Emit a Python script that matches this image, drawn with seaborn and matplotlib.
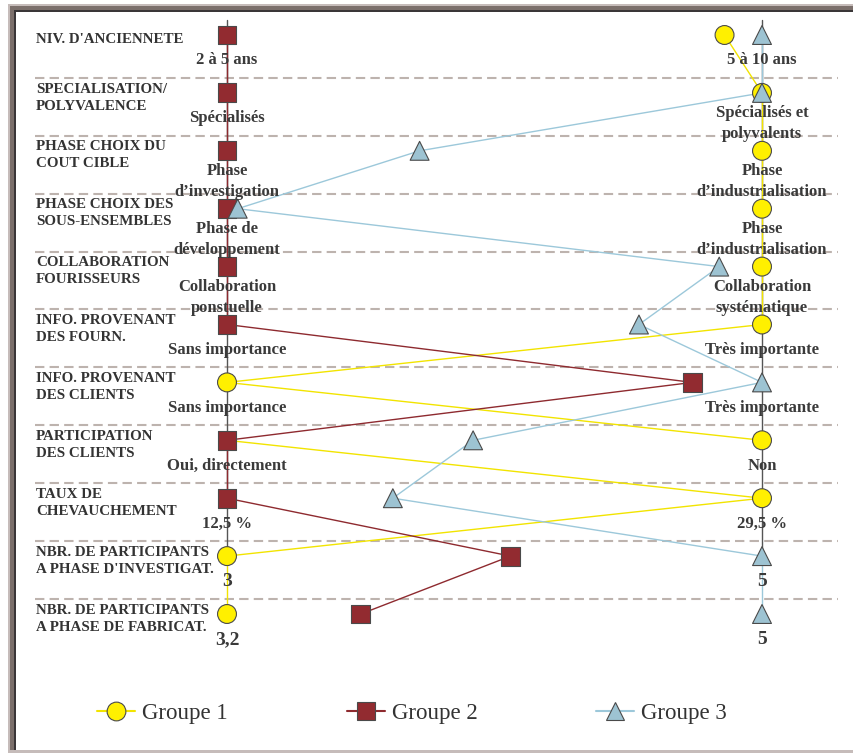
import matplotlib
matplotlib.use('Agg')
import matplotlib.pyplot as plt
from matplotlib.patches import Rectangle
from matplotlib.lines import Line2D
import pandas as pd
import seaborn as sns

# ──────────────────────── Données ────────────────────────────────────

CRITERES = [
    "NIV. D'ANCIENNETE",
    "SPECIALISATION/\nPOLYVALENCE",
    "PHASE CHOIX DU\nCOUT CIBLE",
    "PHASE CHOIX DES\nSOUS-ENSEMBLES",
    "COLLABORATION\nFOURISSEURS",
    "INFO. PROVENANT\nDES FOURN.",
    "INFO. PROVENANT\nDES CLIENTS",
    "PARTICIPATION\nDES CLIENTS",
    "TAUX DE\nCHEVAUCHEMENT",
    "NBR. DE PARTICIPANTS\nA PHASE D'INVESTIGAT.",
    "NBR. DE PARTICIPANTS\nA PHASE DE FABRICAT.",
]

MODALITES_GAUCHE = [
    "2 à 5 ans",
    "Spécialisés",
    "Phase\nd’investigation",
    "Phase de\ndéveloppement",
    "Collaboration\nponstuelle",
    "Sans importance",
    "Sans importance",
    "Oui, directement",
    "12,5 %",
    "3",
    "3,2",
]

MODALITES_DROITE = [
    "5 à 10 ans",
    "Spécialisés et\npolyvalents",
    "Phase\nd’industrialisation",
    "Phase\nd’industrialisation",
    "Collaboration\nsystématique",
    "Très importante",
    "Très importante",
    "Non",
    "29,5 %",
    "5",
    "5",
]

# position entre modalité gauche (0) et modalité droite (1)
GROUPE_1 = [0.93, 1, 1, 1, 1, 1, 0, 1, 1, 0, 0]
GROUPE_2 = [0, 0, 0, 0, 0, 0, 0.87, 0, 0, 0.53, 0.25]
GROUPE_3 = [1, 1, 0.36, 0.02, 0.92, 0.77, 1, 0.46, 0.31, 1, 1]

# dans l'original, le segment 8 -> 9 du groupe 1 repart de la gauche
DEPARTS_G1 = {7: 0.0}

GROUPES = ['Groupe 1', 'Groupe 2', 'Groupe 3']
VALEURS = {'Groupe 1': GROUPE_1, 'Groupe 2': GROUPE_2, 'Groupe 3': GROUPE_3}
DEPARTS = {'Groupe 1': DEPARTS_G1, 'Groupe 2': {}, 'Groupe 3': {}}

REMPLI = {'Groupe 1': '#FFF000', 'Groupe 2': '#922B30', 'Groupe 3': '#9DC3D2'}
TRAIT = {'Groupe 1': '#F2E400', 'Groupe 2': '#8E2A2F', 'Groupe 3': '#9CC8DA'}
MARQUEURS = {'Groupe 1': 'o', 'Groupe 2': 's', 'Groupe 3': '^'}

# ──────────────────────── Tables ─────────────────────────────────────

points = pd.DataFrame([
    {'groupe': g, 'rang': i, 'pos': v}
    for g in GROUPES for i, v in enumerate(VALEURS[g])
])

segments = []
for g in GROUPES:
    vals = VALEURS[g]
    for i in range(len(vals) - 1):
        segments.append({'groupe': g, 'seg': i, 'rang': i,
                         'pos': DEPARTS[g].get(i, vals[i])})
        segments.append({'groupe': g, 'seg': i, 'rang': i + 1,
                         'pos': vals[i + 1]})
segments = pd.DataFrame(segments)

# ──────────────────────── Figure ─────────────────────────────────────

W, H = 854, 753
X0, X1 = 227, 762          # pixels des deux axes
Y0, DY = 35, 57.9          # premier rang, pas entre rangs

sns.set_theme(style='white')
plt.rcParams['font.family'] = ['Liberation Serif', 'DejaVu Serif']

fig = plt.figure(figsize=(W / 100, H / 100), dpi=100)
ax = fig.add_axes([0, 0, 1, 1])
ax.axis('off')

sx = X1 - X0


def px(x):
    return (x - X0) / sx


# cadre
def bande(x, y, w, h, c):
    fig.add_artist(Rectangle((x / W, 1 - (y + h) / H), w / W, h / H,
                             transform=fig.transFigure, color=c, lw=0))


bande(8, 4, 2, 749, '#c6bcba')
bande(8, 4, W, 2, '#c6bcba')
bande(8, 750, W, 3, '#c6bcba')
bande(10, 6, 4, 744, '#7b6f6b')
bande(10, 6, W, 4, '#7b6f6b')
bande(14, 10, 2, 740, '#3a3638')
bande(14, 10, W, 2, '#3a3638')

n = len(CRITERES)

# séparateurs
for i in range(n - 1):
    ax.plot([px(35), px(838)], [i + 0.74, i + 0.74], color='#bdb3ae',
            lw=1.5, dashes=(4.5, 2.5), zorder=1)

# axes verticaux
for x in (0, 1):
    ax.plot([x, x], [-0.26, n - 2], color='#555555', lw=1, zorder=1)

sns.lineplot(data=segments, x='pos', y='rang', hue='groupe', units='seg',
             estimator=None, sort=False, palette=TRAIT, lw=1,
             legend=False, ax=ax, zorder=2)

sns.scatterplot(data=points, x='pos', y='rang', hue='groupe', style='groupe',
                markers=MARQUEURS, palette=REMPLI, s=185,
                edgecolor='#4a4a4a', linewidth=0.8, legend=False,
                ax=ax, zorder=4)

ax.set_xlim(-X0 / sx, (W - X0) / sx)
ax.set_ylim((H - Y0) / DY, -Y0 / DY)

for i in range(n):
    ax.text(px(36), i + 0.08, CRITERES[i], ha='left', va='center',
            fontsize=10.8, fontweight='bold', color='#333333',
            linespacing=1.4, zorder=5)
    taille = 14 if i >= n - 2 else 12
    for x, lab in ((0, MODALITES_GAUCHE[i]), (1, MODALITES_DROITE[i])):
        dy = 0.53 if '\n' in lab else 0.44
        ax.text(x, i + dy, lab, ha='center', va='center',
                fontsize=taille, fontweight='bold', color='#3a3a3a',
                linespacing=1.42, zorder=5)

# légende
poignees = [Line2D([0], [0], color=TRAIT[g], lw=1.5, marker=MARQUEURS[g],
                   markersize=13.5, markerfacecolor=REMPLI[g],
                   markeredgecolor='#4a4a4a', markeredgewidth=0.8)
            for g in GROUPES]
fig.legend(poignees, GROUPES, loc='center', ncol=3, frameon=False,
           bbox_to_anchor=(412 / W, 1 - 713 / H), fontsize=16.5,
           handlelength=1.66, handletextpad=0.3, columnspacing=5.2,
           labelcolor='#333333')

fig.savefig('out.png', dpi=100)
